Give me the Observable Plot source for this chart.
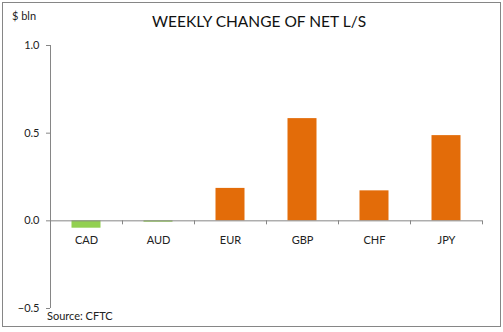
<!DOCTYPE html>
<html><head><meta charset="utf-8">
<script src="https://cdn.jsdelivr.net/npm/d3@7"></script>
<script src="https://cdn.jsdelivr.net/npm/@observablehq/plot@0.6"></script>
<style>
html,body{margin:0;padding:0;background:#fff;}
svg{display:block;}
</style></head>
<body><div id="chart"></div>
<script>
const categories = ["CAD", "AUD", "EUR", "GBP", "CHF", "JPY"];
const values = [-0.042, -0.008, 0.185, 0.583, 0.171, 0.486];
const barColors = ["#92D050", "#92D050", "#E36C09", "#E36C09", "#E36C09", "#E36C09"];
const yTicks = [-0.5, 0, 0.5, 1.0];
const title = "WEEKLY CHANGE OF NET L/S";
const unitLabel = "$ bln";
const source = "Source: CFTC";

const data = categories.map((c, i) => ({cat: c, value: values[i], color: barColors[i]}));
const font = "Lato, 'Open Sans', sans-serif";
const axisColor = "#868686";

const plot = Plot.plot({
  width: 503, height: 332,
  marginLeft: 50, marginRight: 21, marginTop: 45, marginBottom: 24,
  style: {fontFamily: font, fontSize: "11px", color: "#222", background: "transparent"},
  x: {domain: categories, padding: 0, axis: null},
  y: {domain: [-0.5, 1.0], axis: null},
  marks: [
    Plot.barY(data, {x: "cat", y: "value", fill: "color", insetLeft: 21.5, insetRight: 21.5,
      style: {filter: "drop-shadow(1px 2px 1.5px rgba(0,0,0,0.25))"}}),
    Plot.ruleY([0], {stroke: axisColor, strokeWidth: 1}),
    Plot.axisY(yTicks, {anchor: "left", label: null, tickSize: 4, tickPadding: 7, stroke: axisColor,
      tickFormat: d3.format(".1f"), fill: "#222", fontSize: 11}),
    Plot.text(categories, {x: d => d, y: () => 0, dy: 20, fill: "#222", fontSize: 11})
  ]
});

const svg = d3.select(plot);
const x = plot.scale("x");
const y = plot.scale("y");
const bw = x.bandwidth;
const y0 = y.apply(0);
const yTop = y.apply(1.0), yBot = y.apply(-0.5);
const xLeft = x.apply(categories[0]);
const xRight = x.apply(categories[categories.length - 1]) + bw;

// y axis line
svg.append("line").attr("x1", xLeft + 0.5).attr("x2", xLeft + 0.5).attr("y1", yTop).attr("y2", yBot)
  .attr("stroke", axisColor);
// x boundary ticks
const bounds = categories.map(c => x.apply(c)).concat([xRight]);
svg.append("g").selectAll("line").data(bounds).join("line")
  .attr("x1", d => Math.round(d) + 0.5).attr("x2", d => Math.round(d) + 0.5)
  .attr("y1", y0).attr("y2", y0 + 4).attr("stroke", axisColor);

// border
svg.append("rect").attr("x", 2.5).attr("y", 2.5).attr("width", 498).attr("height", 324)
  .attr("fill", "none").attr("stroke", axisColor);

// texts
svg.append("text").attr("x", 259).attr("y", 27).attr("text-anchor", "middle")
  .style("font-family", font).style("font-size", "15.5px").attr("fill", "#111").text(title);
svg.append("text").attr("x", 12).attr("y", 20).attr("text-anchor", "start")
  .style("font-family", font).style("font-size", "11px").attr("fill", "#222").text(unitLabel);
svg.append("text").attr("x", 47).attr("y", 320).attr("text-anchor", "start")
  .style("font-family", font).style("font-size", "11px").attr("fill", "#222").text(source);

document.getElementById("chart").appendChild(plot);
</script></body></html>
